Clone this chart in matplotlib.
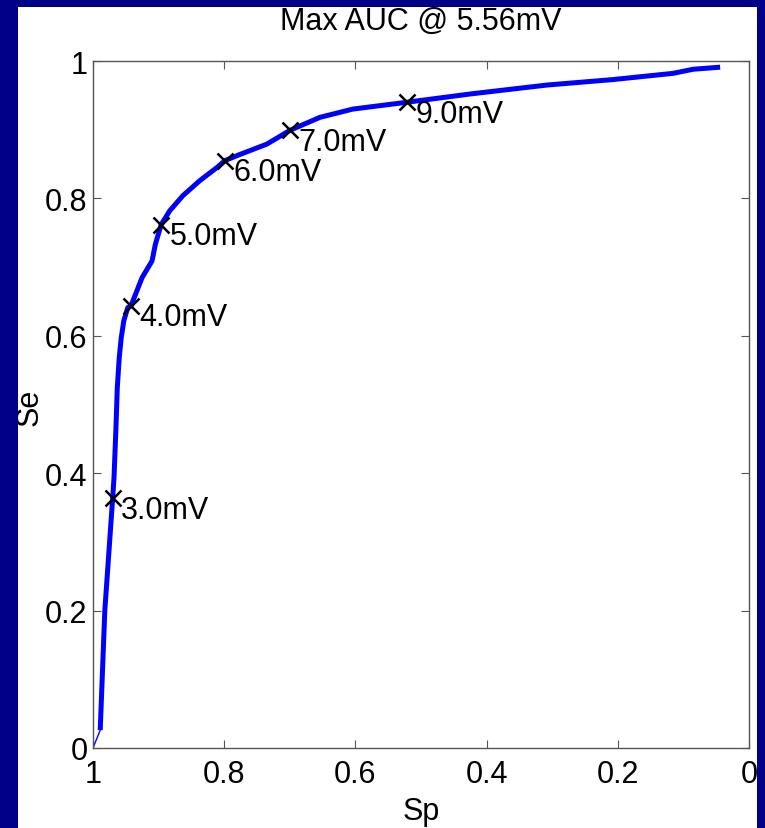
import matplotlib
matplotlib.use("Agg")
import matplotlib.pyplot as plt
from matplotlib.patches import Rectangle
from matplotlib.ticker import FormatStrFormatter

plt.rcParams['font.family'] = ['Liberation Sans', 'DejaVu Sans']

# ROC curve (Sp on x, reversed; Se on y)
sp_start = [1.0, 0.989]
se_start = [0.0, 0.026]

sp = [0.989, 0.982, 0.970, 0.968, 0.965, 0.963, 0.960, 0.957, 0.953, 0.947,
      0.942, 0.925, 0.910, 0.905, 0.896, 0.883, 0.863, 0.837, 0.811, 0.799,
      0.776, 0.735, 0.700, 0.654, 0.604, 0.521, 0.425, 0.308, 0.207, 0.116,
      0.085, 0.044]
se = [0.026, 0.200, 0.364, 0.393, 0.466, 0.524, 0.568, 0.597, 0.622, 0.641,
      0.644, 0.685, 0.709, 0.733, 0.762, 0.782, 0.804, 0.826, 0.845, 0.855,
      0.864, 0.879, 0.899, 0.918, 0.930, 0.940, 0.952, 0.965, 0.973, 0.982,
      0.988, 0.991]

# threshold markers
thr_labels = ["3.0mV", "4.0mV", "5.0mV", "6.0mV", "7.0mV", "9.0mV"]
thr_sp = [0.970, 0.942, 0.896, 0.799, 0.700, 0.521]
thr_se = [0.364, 0.644, 0.762, 0.855, 0.899, 0.940]

ticks = [0, 0.2, 0.4, 0.6, 0.8, 1]

W, H = 765, 829
fig = plt.figure(figsize=(W / 100, H / 100), dpi=100)
fig.patch.set_facecolor("white")

ax = fig.add_axes([93 / W, 1 - 749 / H, (749 - 93) / W, (749 - 62) / H])
ax.plot(sp_start, se_start, color="#0000FF", lw=1.0)
ax.plot(sp, se, color="#0000FF", lw=3.6, solid_capstyle="butt", solid_joinstyle="round")
ax.plot(thr_sp, thr_se, "x", color="black", ms=11, mew=1.8, linestyle="none")
for lab, x, y in zip(thr_labels, thr_sp, thr_se):
    ax.annotate(lab, (x, y), xytext=(6, -8.5), textcoords="offset points",
                ha="left", va="center", fontsize=22)

ax.set_xlim(1, 0)
ax.set_ylim(0, 1)
ax.set_xticks(ticks)
ax.set_yticks(ticks)
ax.xaxis.set_major_formatter(FormatStrFormatter("%g"))
ax.yaxis.set_major_formatter(FormatStrFormatter("%g"))
ax.tick_params(direction="in", length=6, width=0.8, color="#555555",
               top=True, right=True, labelsize=22)
ax.tick_params(axis="x", pad=8)
ax.tick_params(axis="y", pad=4)
for s in ax.spines.values():
    s.set_color("#555555")
    s.set_linewidth(1.0)

fig.text(421 / W, 1 - 22 / H, "Max AUC @ 5.56mV", ha="center", va="center", fontsize=22)
fig.text(421 / W, 1 - 812 / H, "Sp", ha="center", va="center", fontsize=22)
fig.text(30 / W, 1 - 407 / H, "Se", ha="center", va="center", fontsize=22, rotation=90)

# navy slide frame drawn over everything
navy = "#000088"
for x0, y0, w, h in [(0, 0, 18, H), (757, 0, W - 757, H), (0, 0, W, 8)]:
    fig.add_artist(Rectangle((x0 / W, 1 - (y0 + h) / H), w / W, h / H,
                             transform=fig.transFigure, facecolor=navy,
                             edgecolor="none", zorder=10))

fig.savefig("out.png", dpi=100)
